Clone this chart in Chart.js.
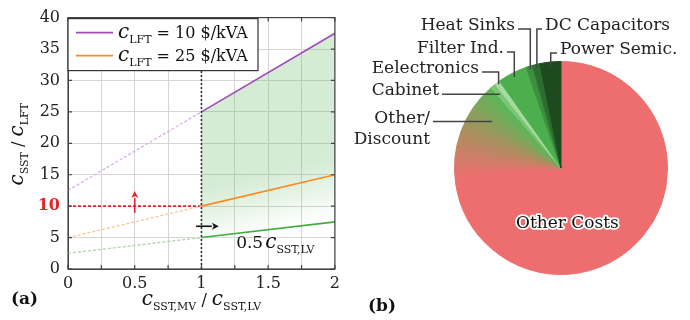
<!DOCTYPE html>
<html>
<head>
<meta charset="utf-8">
<script src="https://cdn.jsdelivr.net/npm/chart.js@4.4.3/dist/chart.umd.min.js"></script>
<style>
  html, body { margin: 0; padding: 0; background: #fff; }
  #wrap { position: relative; width: 690px; height: 320px; }
  #lineCanvas { position: absolute; left: 0; top: 0; }
  #pieCanvas { position: absolute; left: 345px; top: 0; }
</style>
</head>
<body>
<div id="wrap">
  <canvas id="lineCanvas" width="345" height="320"></canvas>
  <canvas id="pieCanvas" width="345" height="320"></canvas>
</div>
<script>
const SERIF = '"DejaVu Serif", serif';

// (a) SST/LFT cost ratio against MV/LV cost ratio
const ratioX = [0, 1, 2];
const lft10 = [12.5, 25, 37.5];
const lft25 = [5, 10, 15];
const halfLv = [2.5, 5, 7.5];
const lftCosts = [10, 25];
const targetLevel = 10;
const breakEvenX = 1;
const xRange = [0, 2];
const yRange = [0, 40];

// (b) cost shares in %, clockwise from 12 o'clock
const pieLabels = ["Other Costs", "Other/Discount", "Cabinet", "Eelectronics",
  "Filter Ind.", "Heat Sinks", "DC Capacitors", "Power Semic."];
const pieShares = [72.6, 16, 0.8, 0.8, 4.5, 1.0, 1.1, 3.2];

const COL = {
  purple: "#a04dbb", purpleLight: "#d9aee6",
  orange: "#ff8a1c", orangeLight: "#ffc48c",
  green: "#3fae3f", greenLight: "#a9d9a3",
  red: "#e8222a", ink: "#222222", frame: "#444444", grid: "#d6d6d6",
};

Chart.defaults.font.family = SERIF;
Chart.defaults.color = COL.ink;

const pts = (ys) => ratioX.map((x, i) => ({ x, y: ys[i] }));
const fromBreakEven = (ys) => pts(ys).filter((p) => p.x >= breakEvenX);

function cSub(sub, size) {
  return [
    { t: "c", font: `italic ${size}px ${SERIF}` },
    { t: sub, font: `${Math.round(size * 0.56)}px ${SERIF}`, dy: Math.round(size * 0.24) },
  ];
}

function richWidth(ctx, parts) {
  let w = 0;
  for (const p of parts) { ctx.font = p.font; w += ctx.measureText(p.t).width + (p.gap || 0); }
  return w;
}

function drawRich(ctx, parts, x, y, align) {
  const w = richWidth(ctx, parts);
  let cx = align === "center" ? x - w / 2 : align === "right" ? x - w : x;
  ctx.textAlign = "left";
  ctx.textBaseline = "alphabetic";
  for (const p of parts) {
    ctx.font = p.font;
    ctx.fillText(p.t, cx, y + (p.dy || 0));
    cx += ctx.measureText(p.t).width + (p.gap || 0);
  }
}

function lineStyle(color, light) {
  return {
    borderColor: color,
    borderWidth: 1.6,
    pointRadius: 0,
    fill: false,
    segment: {
      borderColor: (c) => (c.p0.parsed.x < breakEvenX ? light : undefined),
      borderDash: (c) => (c.p0.parsed.x < breakEvenX ? [3, 2] : undefined),
      borderWidth: (c) => (c.p0.parsed.x < breakEvenX ? 1.3 : undefined),
    },
    order: 1,
  };
}

// arrows and labels placed in data units
const arrows = [
  { from: [0.5, 8.9], to: [0.5, 12.4], color: COL.red },
  { from: [0.96, 6.8], to: [1.13, 6.8], color: "#111" },
];
const halfLvNote = { x: 1.26, y: 3.4 };

function drawArrow(ctx, x0, y0, x1, y1, color) {
  const len = Math.hypot(x1 - x0, y1 - y0);
  const ux = (x1 - x0) / len, uy = (y1 - y0) / len;
  const hl = 7, hw = 3.5;
  ctx.strokeStyle = color;
  ctx.fillStyle = color;
  ctx.lineWidth = 1.6;
  ctx.setLineDash([]);
  ctx.beginPath();
  ctx.moveTo(x0, y0);
  ctx.lineTo(x1 - ux * hl, y1 - uy * hl);
  ctx.stroke();
  ctx.beginPath();
  ctx.moveTo(x1, y1);
  ctx.lineTo(x1 - ux * hl - uy * hw, y1 - uy * hl + ux * hw);
  ctx.lineTo(x1 - ux * (hl - 2), y1 - uy * (hl - 2));
  ctx.lineTo(x1 - ux * hl + uy * hw, y1 - uy * hl - ux * hw);
  ctx.closePath();
  ctx.fill();
}

const panelA = {
  id: "panelA",
  afterDatasetsDraw(chart) {
    const { ctx, chartArea: a, scales: { x, y } } = chart;
    ctx.save();

    // frame with inner ticks on all four sides
    ctx.strokeStyle = COL.frame;
    ctx.lineWidth = 1.2;
    ctx.setLineDash([]);
    ctx.strokeRect(a.left, a.top, a.right - a.left, a.bottom - a.top);
    ctx.beginPath();
    x.ticks.forEach((t) => {
      const px = x.getPixelForValue(t.value);
      ctx.moveTo(px, a.bottom); ctx.lineTo(px, a.bottom - 4);
      ctx.moveTo(px, a.top); ctx.lineTo(px, a.top + 4);
    });
    y.ticks.forEach((t) => {
      const py = y.getPixelForValue(t.value);
      ctx.moveTo(a.left, py); ctx.lineTo(a.left + 4, py);
      ctx.moveTo(a.right, py); ctx.lineTo(a.right - 4, py);
    });
    ctx.stroke();

    arrows.forEach((ar) => drawArrow(ctx,
      x.getPixelForValue(ar.from[0]), y.getPixelForValue(ar.from[1]),
      x.getPixelForValue(ar.to[0]), y.getPixelForValue(ar.to[1]), ar.color));

    ctx.fillStyle = "#111";
    drawRich(ctx, [{ t: "0.5", font: `17px ${SERIF}`, gap: 2 }, ...cSub("SST,LV", 20)],
      x.getPixelForValue(halfLvNote.x), y.getPixelForValue(halfLvNote.y), "left");

    // legend
    const lx = a.left, ly = a.top + 1, lw = 190, lh = 52;
    ctx.fillStyle = "#fff";
    ctx.fillRect(lx, ly, lw, lh);
    ctx.strokeStyle = "#333";
    ctx.lineWidth = 1.2;
    ctx.strokeRect(lx, ly, lw, lh);
    const legendColors = [COL.purple, COL.orange];
    lftCosts.forEach((cost, i) => {
      const rowY = ly + 14 + i * 23;
      ctx.strokeStyle = legendColors[i];
      ctx.lineWidth = 1.6;
      ctx.beginPath();
      ctx.moveTo(lx + 8, rowY);
      ctx.lineTo(lx + 45, rowY);
      ctx.stroke();
      ctx.fillStyle = "#111";
      drawRich(ctx, [...cSub("LFT", 20), { t: ` = ${cost} $/kVA`, font: `16px ${SERIF}` }],
        lx + 50, rowY + 5, "left");
    });

    // axis titles and panel tag
    ctx.fillStyle = "#111";
    drawRich(ctx, [...cSub("SST,MV", 20), { t: " / ", font: `16px ${SERIF}` }, ...cSub("SST,LV", 20)],
      (a.left + a.right) / 2, 305, "center");
    ctx.save();
    ctx.translate(23, (a.top + a.bottom) / 2 + 1);
    ctx.rotate(-Math.PI / 2);
    drawRich(ctx, [...cSub("SST", 20), { t: " / ", font: `16px ${SERIF}` }, ...cSub("LFT", 20)], 0, 0, "center");
    ctx.restore();
    ctx.font = `bold 17px ${SERIF}`;
    ctx.textAlign = "left";
    ctx.fillText("(a)", 11, 304);
    ctx.restore();
  },
};

function fillGradient(c) {
  const chart = c.chart;
  const { x, y } = chart.scales;
  if (!chart.chartArea || !x || !y) return "rgba(90,180,90,0.25)";
  const g = chart.ctx.createLinearGradient(
    x.getPixelForValue(1), y.getPixelForValue(13),
    x.getPixelForValue(1.1), y.getPixelForValue(4));
  g.addColorStop(0, "rgba(90,180,90,0.26)");
  g.addColorStop(0.45, "rgba(90,180,90,0.16)");
  g.addColorStop(1, "rgba(90,180,90,0)");
  return g;
}

new Chart(document.getElementById("lineCanvas"), {
  type: "line",
  data: {
    datasets: [
      { label: "lft10", data: pts(lft10), ...lineStyle(COL.purple, COL.purpleLight) },
      { label: "lft25", data: pts(lft25), ...lineStyle(COL.orange, COL.orangeLight) },
      { label: "halfLv", data: pts(halfLv), ...lineStyle(COL.green, COL.greenLight) },
      {
        label: "target", data: [{ x: xRange[0], y: targetLevel }, { x: breakEvenX, y: targetLevel }],
        borderColor: COL.red, borderWidth: 1.6, borderDash: [3, 2], pointRadius: 0, fill: false, order: 2,
      },
      {
        label: "breakEven", data: [{ x: breakEvenX, y: yRange[0] }, { x: breakEvenX, y: yRange[1] }],
        borderColor: "#333", borderWidth: 1.6, borderDash: [2, 2], pointRadius: 0, fill: false, order: 0,
      },
      {
        label: "regionTop", data: fromBreakEven(lft10), borderWidth: 0, pointRadius: 0,
        fill: "+1", backgroundColor: fillGradient, order: 10,
      },
      { label: "regionBottom", data: fromBreakEven(halfLv), borderWidth: 0, pointRadius: 0, fill: false, order: 11 },
    ],
  },
  options: {
    responsive: false,
    devicePixelRatio: 1,
    animation: false,
    events: [],
    layout: { padding: { left: 0, top: 11, right: 10, bottom: 0 } },
    plugins: { legend: { display: false }, tooltip: { enabled: false } },
    scales: {
      x: {
        type: "linear", min: xRange[0], max: xRange[1],
        grid: { color: COL.grid, drawTicks: false },
        border: { color: COL.frame },
        ticks: {
          stepSize: 0.25, autoSkip: false, maxRotation: 0, padding: 5,
          font: { size: 16 }, color: COL.ink,
          callback: (v) => (Math.round(v * 100) % 50 === 0 ? String(v) : ""),
        },
        afterFit: (s) => { s.height = 51; },
      },
      y: {
        min: yRange[0], max: yRange[1],
        grid: { color: COL.grid, drawTicks: false },
        border: { color: COL.frame },
        ticks: {
          stepSize: 5, padding: 8,
          color: (c) => (c.tick && c.tick.value === targetLevel ? COL.red : COL.ink),
          font: (c) => ({ size: 16, weight: c.tick && c.tick.value === targetLevel ? "bold" : "normal" }),
        },
        afterFit: (s) => { s.width = 68; },
      },
    },
  },
  plugins: [panelA],
});

// ---------- (b) pie ----------
const pieColors = ["#ee6e6f", null, "#7cc576", "#a5dc9e", "#4cae4c", "#3c8f3e", "#2d6e30", "#1d4a1f"];
const discountIdx = 1;

function discountGradient(c) {
  const chart = c.chart;
  const a = chart.chartArea;
  if (!a || !chart.ctx.createConicGradient) return "#a0925e";
  const total = pieShares.reduce((s, v) => s + v, 0);
  const before = pieShares.slice(0, discountIdx).reduce((s, v) => s + v, 0);
  const start = -Math.PI / 2 + (2 * Math.PI * before) / total - 0.02;
  const frac = pieShares[discountIdx] / total;
  const g = chart.ctx.createConicGradient(start, (a.left + a.right) / 2, (a.top + a.bottom) / 2);
  g.addColorStop(0, "#ee6e6f");
  g.addColorStop(0.01, "#ee6e6f");
  g.addColorStop(frac * 0.55, "#a8905f");
  g.addColorStop(frac, "#5cb657");
  g.addColorStop(Math.min(1, frac + 0.01), "#5cb657");
  return g;
}

const sliceColor = (c) => (c.dataIndex === discountIdx ? discountGradient(c) : pieColors[c.dataIndex]);

// leader lines: anchor at fraction r of radius, at position along slice; elbow/end in px from centre
const callouts = {
  1: { r: 0.78, at: 0.74, endDx: -128, lines: ["Other/", "Discount"] },
  2: { r: 0.9, endDx: -119 },
  3: { r: 0.98, elbowDy: -96, endDx: -79 },
  4: { r: 0.96, elbowDy: -116, endDx: -54 },
  5: { r: 0.97, elbowDy: -139, endDx: -43 },
  6: { r: 0.97, elbowDy: -139, endDx: -19, side: "left" },
  7: { r: 0.96, elbowDy: -115, endDx: -4, side: "left" },
};

const panelB = {
  id: "panelB",
  afterDatasetsDraw(chart) {
    const { ctx } = chart;
    const meta = chart.getDatasetMeta(0);
    ctx.save();
    ctx.font = `17px ${SERIF}`;
    ctx.textBaseline = "alphabetic";
    meta.data.forEach((arc, i) => {
      const c = callouts[i];
      if (!c) return;
      const ang = arc.startAngle + (arc.endAngle - arc.startAngle) * (c.at ?? 0.5);
      const ax = arc.x + Math.cos(ang) * arc.outerRadius * c.r;
      const ay = arc.y + Math.sin(ang) * arc.outerRadius * c.r;
      const ey = c.elbowDy != null ? arc.y + c.elbowDy : ay;
      const ex = arc.x + c.endDx;
      ctx.strokeStyle = "#444";
      ctx.lineWidth = 1.5;
      ctx.beginPath();
      ctx.moveTo(ax, ay);
      ctx.lineTo(ax, ey);
      ctx.lineTo(ex, ey);
      ctx.stroke();
      ctx.fillStyle = COL.ink;
      const lines = c.lines || [pieLabels[i]];
      ctx.textAlign = c.side === "left" ? "left" : "right";
      const tx = c.side === "left" ? ex + 3 : ex - 3;
      lines.forEach((ln, k) => ctx.fillText(ln, tx, ey + 1 + k * 21));
    });

    // label inside the big slice
    const big = meta.data[0];
    const bx = big.x + big.outerRadius * 0.06, by = big.y + big.outerRadius * 0.56;
    ctx.textAlign = "center";
    ctx.lineJoin = "round";
    ctx.strokeStyle = "#fff";
    ctx.lineWidth = 3.5;
    ctx.strokeText(pieLabels[0], bx, by);
    ctx.fillStyle = "#111";
    ctx.fillText(pieLabels[0], bx, by);

    ctx.font = `bold 17px ${SERIF}`;
    ctx.textAlign = "left";
    ctx.fillText("(b)", 23, 311);
    ctx.restore();
  },
};

new Chart(document.getElementById("pieCanvas"), {
  type: "pie",
  data: {
    labels: pieLabels,
    datasets: [{
      data: pieShares,
      backgroundColor: sliceColor,
      borderColor: sliceColor,
      borderWidth: 1,
    }],
  },
  options: {
    responsive: false,
    devicePixelRatio: 1,
    animation: false,
    events: [],
    layout: { padding: { left: 109, right: 22, top: 61, bottom: 45 } },
    plugins: { legend: { display: false }, tooltip: { enabled: false } },
  },
  plugins: [panelB],
});
</script>
</body>
</html>
